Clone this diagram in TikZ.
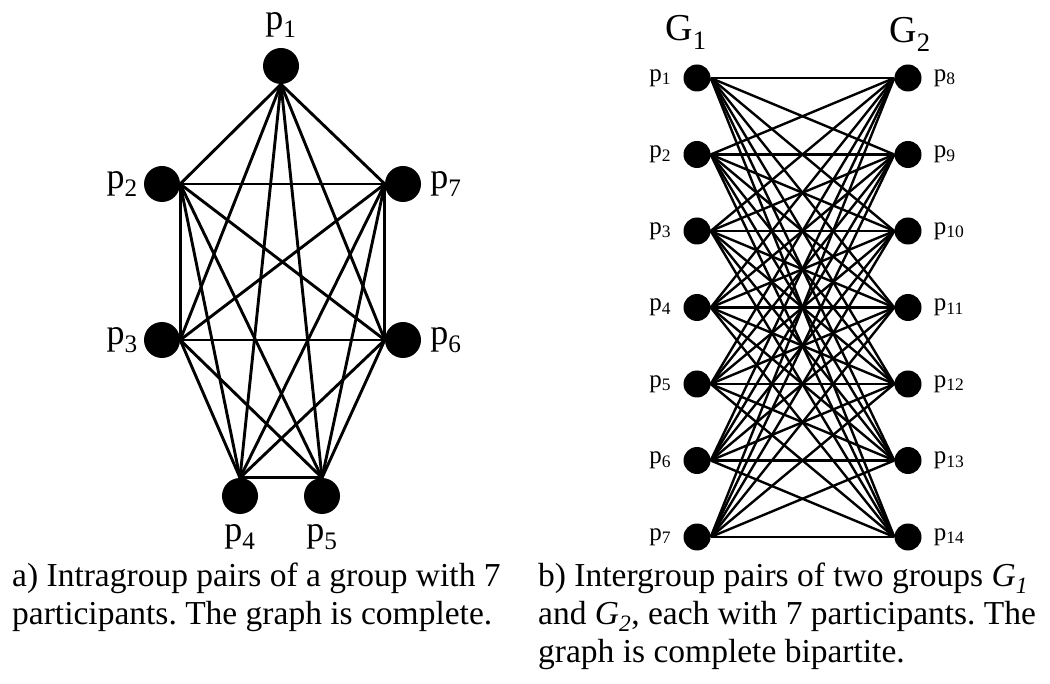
\documentclass[tikz,border=0pt]{standalone}
\usepackage{fontspec}
\setmainfont{Liberation Serif}
\usetikzlibrary{positioning}
\frenchspacing

\begin{document}
\begin{tikzpicture}[x=1pt, y=-1pt,
    vertex/.style={circle, fill=black, inner sep=0pt, minimum size=36pt},
    smallvertex/.style={circle, fill=black, inner sep=0pt, minimum size=27pt},
    edge/.style={line width=2.9pt},
    biedge/.style={line width=2.4pt},
    plabel/.style={font=\fontsize{36}{36}\selectfont, inner sep=0pt},
    qlabel/.style={font=\fontsize{25}{25}\selectfont, inner sep=0pt},
    glabel/.style={font=\fontsize{38}{38}\selectfont, inner sep=0pt},
    caption/.style={font=\fontsize{33.5}{38}\selectfont, align=left, inner sep=0pt, anchor=north west}]

    \useasboundingbox (0,0) rectangle (1050,684);

    % a) complete graph
    \node[vertex] (p1) at (281,66) {};
    \node[vertex] (p2) at (162,184) {};
    \node[vertex] (p3) at (162,340) {};
    \node[vertex] (p4) at (240,496) {};
    \node[vertex] (p5) at (322,496) {};
    \node[vertex] (p6) at (403,340) {};
    \node[vertex] (p7) at (403,184) {};

    \node[plabel, above=10pt of p1] (lp1) {p\textsubscript{1}};
    \node[plabel, left=6pt of p2] (lp2) {p\textsubscript{2}};
    \node[plabel, left=6pt of p3] (lp3) {p\textsubscript{3}};
    \node[plabel, below=10pt of p4] (lp4) {p\textsubscript{4}};
    \node[plabel, below=10pt of p5] (lp5) {p\textsubscript{5}};
    \node[plabel, right=9pt of p6] (lp6) {p\textsubscript{6}};
    \node[plabel, right=9pt of p7] (lp7) {p\textsubscript{7}};

    \foreach \n/\s in {1/south,2/east,3/east,4/north,5/north,6/west,7/west}
        \coordinate (a\n) at (p\n.\s);
    \foreach \i in {1,...,6}{
        \pgfmathtruncatemacro{\k}{\i+1}
        \foreach \j in {\k,...,7}
            \draw[edge] (a\i) -- (a\j);
    }

    % b) complete bipartite graph
    \node[glabel] (g1) at (686,32) {G\textsubscript{1}};
    \node[glabel] (g2) at (910,34) {G\textsubscript{2}};

    \foreach \i in {1,...,7}{
        \pgfmathsetmacro{\y}{78+76.5*(\i-1)}
        \pgfmathtruncatemacro{\k}{\i+7}
        \node[smallvertex] (l\i) at (697,\y) {};
        \node[qlabel, left=12pt of l\i] (ll\i) {p\textsubscript{\i}};
        \node[smallvertex] (r\k) at (908,\y) {};
        \node[qlabel, right=12pt of r\k] (rl\k) {p\textsubscript{\k}};
    }
    \foreach \i in {1,...,7}
        \foreach \k in {8,...,14}
            \draw[biedge] (l\i.east) -- (r\k.west);

    % captions
    \node[caption] (capa) at (12,563) {a) Intragroup pairs of a group with 7\\participants. The graph is complete.};
    \node[caption] (capb) at (538,563) {b) Intergroup pairs of two groups \textit{G}\textsubscript{\textit{1}}\\and \textit{G}\textsubscript{\textit{2}}, each with 7 participants. The\\graph is complete bipartite.};
\end{tikzpicture}
\end{document}
